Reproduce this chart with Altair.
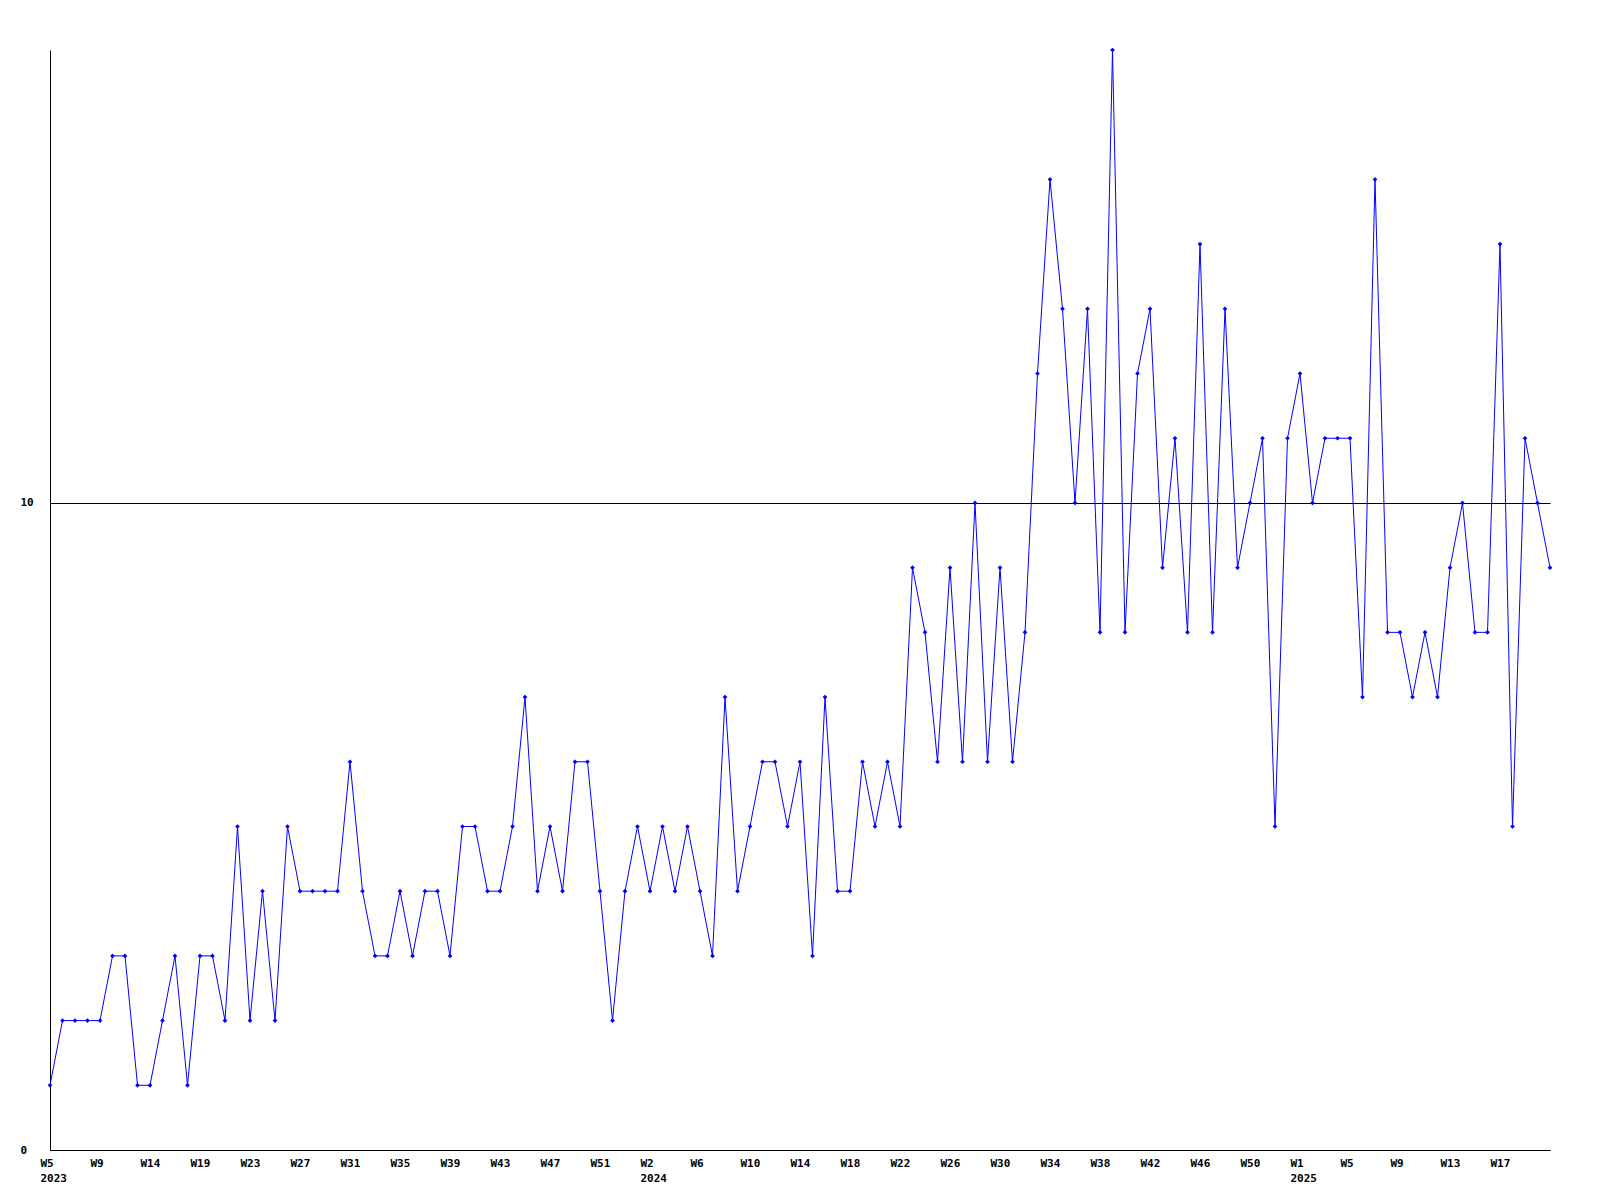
import json
import altair as alt
import pandas as pd

values = [1, 2, 2, 2, 2, 3, 3, 1, 1, 2, 3, 1, 3, 3, 2, 5, 2, 4, 2, 5,
          4, 4, 4, 4, 6, 4, 3, 3, 4, 3, 4, 4, 3, 5, 5, 4, 4, 5, 7, 4,
          5, 4, 6, 6, 4, 2, 4, 5, 4, 5, 4, 5, 4, 3, 7, 4, 5, 6, 6, 5,
          6, 3, 7, 4, 4, 6, 5, 6, 5, 9, 8, 6, 9, 6, 10, 6, 9, 6, 8, 12,
          15, 13, 10, 13, 8, 17, 8, 12, 13, 9, 11, 8, 14, 8, 13, 9, 10, 11, 5, 11,
          12, 10, 11, 11, 11, 7, 15, 8, 8, 7, 8, 7, 9, 10, 8, 8, 14, 5, 11, 10, 9]

week_labels = ["W5", "W9", "W14", "W19", "W23", "W27", "W31", "W35", "W39", "W43",
               "W47", "W51", "W2", "W6", "W10", "W14", "W18", "W22", "W26", "W30",
               "W34", "W38", "W42", "W46", "W50", "W1", "W5", "W9", "W13", "W17"]
year_labels = {0: "2023", 12: "2024", 25: "2025"}

y_ticks = [0, 10]

df = pd.DataFrame({"i": list(range(len(values))), "v": values})

label_entries = [[w, year_labels[k]] if k in year_labels else w
                 for k, w in enumerate(week_labels)]
label_expr = json.dumps(label_entries).replace('"', "'") + "[round(datum.value / 4)]"
tick_values = [4 * k for k in range(len(week_labels))]

FONT = "DejaVu Sans Mono"

x_enc = alt.X("i:Q", scale=alt.Scale(domain=[0, len(values) - 1], nice=False, zero=False),
              axis=alt.Axis(values=tick_values, labelExpr=label_expr, title=None,
                            ticks=False, grid=False, domainColor="black", domainWidth=1,
                            labelFont=FONT, labelFontWeight="bold", labelFontSize=11,
                            labelColor="black", labelAlign="left", labelOffset=-10,
                            labelPadding=7, labelLineHeight=15, labelOverlap=False,
                            labelFlush=False))
y_enc = alt.Y("v:Q", scale=alt.Scale(domain=[0, 17], nice=False),
              axis=alt.Axis(values=y_ticks, format="d", title=None, ticks=False, grid=True,
                            gridColor="black", gridWidth=1, gridOpacity=1,
                            domainColor="black", domainWidth=1,
                            labelFont=FONT, labelFontWeight="bold", labelFontSize=11,
                            labelColor="black", labelAlign="left", labelPadding=30,
                            labelBaseline="middle"))

line = alt.Chart(df).mark_line(color="#0000FF", strokeWidth=1).encode(x=x_enc, y=y_enc)
pts = alt.Chart(df).mark_point(shape="diamond", filled=True, color="#0000FF",
                                size=22, opacity=1).encode(x="i:Q", y="v:Q")

chart = (line + pts).properties(
    width=1500, height=1100,
    autosize=alt.AutoSizeParams(type="none"),
    padding={"left": 42, "top": 42, "right": 41, "bottom": 42},
).configure(background="white").configure_view(stroke=None, strokeWidth=0)

chart.save("out.html", embed_options={"renderer": "svg", "actions": False})
